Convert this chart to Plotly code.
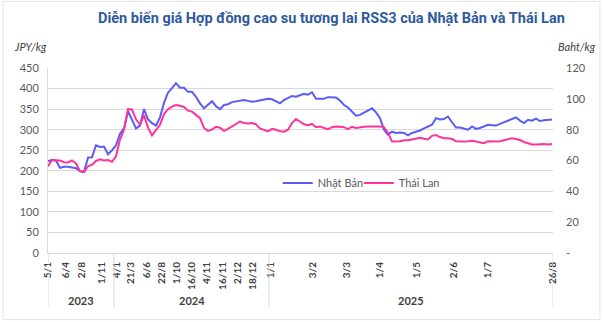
import plotly.graph_objects as go

# Category index of each trading sample (one per data point)
nhat_ban = [223, 227, 225, 207, 210, 210, 208, 206, 199, 197,
            232, 233, 262, 258, 259, 240, 250, 262, 290, 303,
            345, 322, 303, 310, 350, 325, 316, 310, 330, 365,
            390, 401, 413, 402, 402, 392, 392, 380, 364, 352,
            360, 369, 357, 350, 360, 362, 367, 369, 370, 372,
            370, 368, 369, 371, 374, 375, 374, 368, 364, 372,
            377, 382, 380, 383, 387, 385, 391, 375, 375, 375,
            379, 378, 378, 371, 360, 354, 344, 334, 336, 342,
            348, 352, 342, 328, 300, 288, 295, 292, 293, 292,
            286, 292, 295, 298, 303, 308, 312, 328, 325, 326,
            332, 318, 305, 305, 302, 300, 308, 302, 304, 309,
            312, 311, 310, 314, 318, 322, 325, 330, 322, 316,
            324, 322, 327, 321, 323, 324, 325]

thai_lan = [56.3, 60.3, 60.0, 60.0, 58.9, 58.7, 60.0, 58.1, 53.1, 52.5,
            56.3, 57.3, 59.7, 60.8, 60.0, 60.3, 59.2, 62.7, 73.6, 80.0,
            93.3, 93.1, 86.7, 83.2, 89.3, 81.3, 76.3, 80.0, 83.2, 90.1,
            93.3, 94.9, 96.0, 95.5, 94.7, 92.3, 91.7, 89.6, 87.5, 81.1,
            79.2, 80.0, 81.9, 81.3, 79.2, 80.5, 82.1, 84.0, 85.3, 84.3,
            84.0, 84.3, 83.5, 80.8, 79.7, 78.9, 80.5, 80.0, 78.9, 78.7,
            80.0, 84.3, 86.9, 85.1, 83.5, 82.9, 83.7, 81.6, 82.1, 81.1,
            80.3, 81.6, 82.1, 81.9, 81.6, 80.3, 81.9, 81.1, 81.6, 81.9,
            82.1, 82.1, 82.1, 82.1, 81.6, 77.9, 72.3, 72.3, 72.5, 73.1,
            73.1, 73.6, 74.1, 74.7, 74.1, 73.6, 76.0, 76.5, 75.2, 74.4,
            74.4, 73.9, 72.5, 72.3, 72.3, 72.5, 72.8, 72.3, 71.7, 71.2,
            72.5, 72.3, 72.3, 72.5, 73.3, 73.9, 74.4, 73.9, 73.3, 72.0,
            71.2, 70.4, 70.4, 70.7, 70.7, 70.4, 70.7]

idx = list(range(len(nhat_ban)))

tick_pos = [0, 4.5, 8.5, 13.5, 17.25, 20.75, 24.75, 28.5, 32.25, 36, 39.75,
            43.75, 47.5, 51.25, 55.75, 66.25, 74.75, 83, 92.25, 101.5, 110, 126.25]
tick_text = ["5/1", "6/4", "2/8", "1/11", "4/1", "21/3", "6/6", "22/8", "1/10",
             "16/10", "4/11", "16/11", "2/12", "18/12", "1/1", "3/2", "3/3",
             "1/4", "1/5", "2/6", "1/7", "26/8"]

years = ["2023", "2024", "2025"]
year_bounds = [0, 16.5, 55.25, 126.25]

left_ticks = [0, 50, 100, 150, 200, 250, 300, 350, 400, 450]
right_ticks = [0, 20, 40, 60, 80, 100, 120]
right_text = ["-", "20", "40", "60", "80", "100", "120"]

TITLE = "Diễn biến giá Hợp đồng cao su tương lai RSS3 của Nhật Bản và Thái Lan"

BLUE = "#5B5BF8"
PINK = "#FF3399"
GRID = "#D9D9D9"
TXT = "#595959"

fig = go.Figure()
fig.add_trace(go.Scatter(x=idx, y=nhat_ban, name="Nhật Bản", mode="lines",
                         line=dict(color=BLUE, width=2), yaxis="y"))
fig.add_trace(go.Scatter(x=idx, y=thai_lan, name="Thái Lan", mode="lines",
                         line=dict(color=PINK, width=2), yaxis="y2"))

shapes = []
for b in year_bounds:
    shapes.append(dict(type="line", xref="x", yref="paper", x0=b, x1=b,
                       y0=0, y1=-0.292, line=dict(color=GRID, width=1)))
shapes.append(dict(type="rect", xref="paper", yref="paper", x0=-0.089, x1=1.093,
                   y0=-0.36, y1=1.36, line=dict(color="#E4E4E4", width=1)))

annotations = []
for i, y in enumerate(years):
    annotations.append(dict(x=(year_bounds[i] + year_bounds[i + 1]) / 2, xref="x",
                            y=-0.255, yref="paper", text=f"<b>{y}</b>", showarrow=False,
                            font=dict(family="Lato", size=11, color="#404040"),
                            xanchor="center", yanchor="middle"))
annotations.append(dict(x=-0.071, xref="paper", y=1.114, yref="paper", text="<i>JPY/kg</i>",
                        showarrow=False, xanchor="left", yanchor="middle",
                        font=dict(family="Lato", size=11, color="#404040")))
annotations.append(dict(x=1.089, xref="paper", y=1.114, yref="paper", text="<i>Baht/kg</i>",
                        showarrow=False, xanchor="right", yanchor="middle",
                        font=dict(family="Lato", size=11, color="#404040")))
annotations.append(dict(x=0.562, xref="paper", y=1.27, yref="paper",
                        text=f"<b>{TITLE}</b>", showarrow=False,
                        xanchor="center", yanchor="middle",
                        font=dict(family="Roboto", size=14.5, color="#2E5AA0")))

fig.update_layout(
    width=604, height=322,
    margin=dict(l=48, r=51, t=68, b=69),
    paper_bgcolor="white", plot_bgcolor="white",
    xaxis=dict(range=[0, 126.25], tickvals=tick_pos, ticktext=tick_text, tickangle=-90,
               showgrid=False, zeroline=False, showline=True, linecolor=GRID,
               ticks="", ticklabelstandoff=4,
               tickfont=dict(family="Lato", size=10, color="#404040", weight="bold")),
    yaxis=dict(range=[0, 450], tickvals=left_ticks, showgrid=True, gridcolor=GRID,
               zeroline=False, showline=True, linecolor=GRID, ticks="",
               ticklabelstandoff=6,
               tickfont=dict(family="Lato", size=11, color=TXT)),
    yaxis2=dict(range=[0, 120], tickvals=right_ticks, ticktext=right_text,
                overlaying="y", side="right", showgrid=False, zeroline=False,
                showline=False, ticks="", ticklabelstandoff=12,
                tickfont=dict(family="Lato", size=11, color=TXT)),
    legend=dict(orientation="h", x=0.455, y=0.378, xanchor="left", yanchor="middle",
                bgcolor="rgba(0,0,0,0)", itemwidth=30, entrywidth=36,
                font=dict(family="Lato", size=11, color=TXT)),
    shapes=shapes, annotations=annotations,
)

fig.write_html("out.html")
